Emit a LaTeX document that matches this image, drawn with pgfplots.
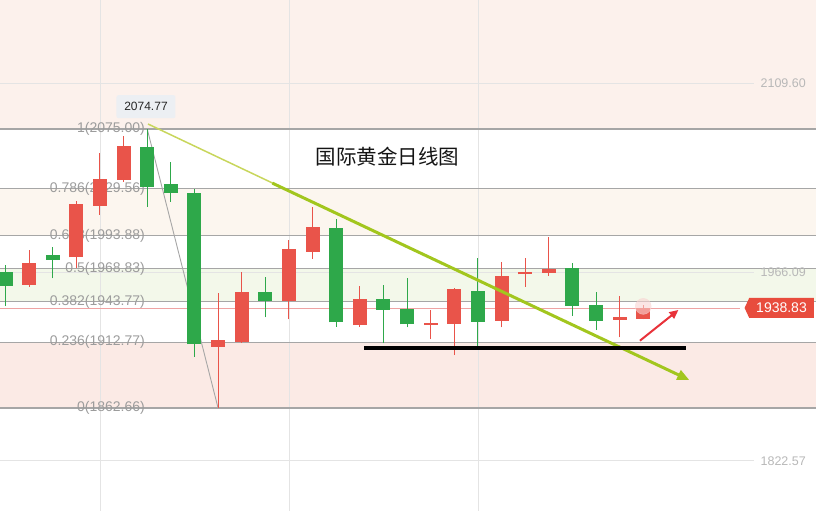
\documentclass[border=0pt]{standalone}
\usepackage{pgfplots}
\pgfplotsset{compat=1.18}
\usepackage{pgfplotstable}
\usepackage{fontspec}
\setmainfont{Liberation Sans}
\newfontfamily\cjk{Noto Sans CJK SC}
\usetikzlibrary{arrows.meta,shapes.symbols}

\definecolor{upred}{HTML}{E9544A}
\definecolor{dngreen}{HTML}{2EA84A}
\definecolor{bgtop}{HTML}{FCF1EC}
\definecolor{bgcream}{HTML}{FCF6EF}
\definecolor{bggreen}{HTML}{F3F8EA}
\definecolor{bgpink}{HTML}{FBEAE5}
\definecolor{fibline}{HTML}{A6A6A6}
\definecolor{fibtext}{HTML}{9C9C9C}
\definecolor{gridc}{HTML}{E4E4E4}
\definecolor{axtext}{HTML}{B8B8B8}
\definecolor{tagred}{HTML}{E84C3D}
\definecolor{trendthin}{HTML}{C8D65C}
\definecolor{trendgreen}{HTML}{A2C61E}
\definecolor{arrowred}{HTML}{E8323A}
\definecolor{pricel}{HTML}{EFA3A3}
\definecolor{hilab}{HTML}{ECEFF3}
\definecolor{glow}{HTML}{F9D4D2}

% rising candles (red): index, open, high, low, close
\pgfplotstableread{
i o h l c
1 1956.5 1982.9 1955.0 1972.8
3 1977.4 2020.2 1969.0 2017.9
4 2016.6 2056.5 2009.6 2036.7
5 2036.2 2069.7 2034.7 2062.1
9 1909.3 1950.0 1862.66 1914.4
10 1913.1 1966.4 1912.5 1951.2
12 1944.1 1990.5 1930.2 1983.7
13 1981.6 2015.9 1976.1 2000.2
15 1925.8 1955.5 1924.6 1945.6
18 1925.7 1937.3 1915.0 1927.1
19 1926.8 1953.7 1903.0 1953.2
21 1929.1 1974.0 1924.1 1963.1
22 1964.4 1976.6 1955.0 1965.9
23 1965.6 1993.0 1963.4 1968.5
26 1929.9 1947.9 1916.5 1931.7
27 1930.6 1941.1 1930.1 1938.83
}\upcandles

% falling candles (green): index, open, high, low, close
\pgfplotstableread{
i o h l c
0 1965.9 1971.5 1940.3 1955.3
2 1979.1 1985.4 1961.4 1975.5
6 2061.1 2074.77 2015.9 2031.1
7 2033.1 2050.1 2019.7 2026.1
8 2026.1 2029.3 1901.7 1911.2
11 1951.2 1962.6 1931.7 1944.3
14 1999.4 2006.3 1924.6 1927.9
16 1945.4 1956.3 1911.9 1937.3
17 1937.8 1961.4 1924.1 1926.4
20 1951.7 1976.6 1909.3 1928.4
24 1969.0 1973.3 1932.9 1940.3
25 1941.1 1951.2 1922.0 1929.1
}\dncandles

\begin{document}
\begin{tikzpicture}
\begin{axis}[
  width=816pt, height=511pt, scale only axis,
  xmin=-0.2329, xmax=34.314, ymin=1784.29, ymax=2173.18,
  hide axis, clip=true,
]
% background bands
\addplot[fill=bgtop, draw=none, forget plot] coordinates {(-1,2075) (35,2075) (35,2200) (-1,2200) (-1,2075)};
\addplot[fill=bgcream, draw=none, forget plot] coordinates {(-1,1993.88) (35,1993.88) (35,2029.56) (-1,2029.56) (-1,1993.88)};
\addplot[fill=bggreen, draw=none, forget plot] coordinates {(-1,1943.77) (35,1943.77) (35,1968.83) (-1,1968.83) (-1,1943.77)};
\addplot[fill=bgpink, draw=none, forget plot] coordinates {(-1,1862.66) (35,1862.66) (35,1912.77) (-1,1912.77) (-1,1862.66)};

% vertical grid lines
\pgfplotsinvokeforeach{4,12,20}{
  \addplot[gridc, line width=0.8pt, forget plot] coordinates {(#1,1780) (#1,2180)};
}
% price axis grid lines
\pgfplotsinvokeforeach{2109.60,1966.09,1822.57}{
  \addplot[gridc, line width=0.8pt, forget plot] coordinates {(-1,#1) (31.69,#1)};
}
% current price line
\addplot[pricel, line width=0.8pt, forget plot] coordinates {(-1,1938.83) (31.1,1938.83)};

% Fibonacci levels
\pgfplotsinvokeforeach{2075,2029.56,1993.88,1968.83,1943.77,1912.77,1862.66}{
  \addplot[fibline, line width=1.1pt, forget plot] coordinates {(-1,#1) (35,#1)};
}
\begin{scope}[every node/.style={anchor=east, text=fibtext, inner sep=0pt, font=\fontsize{14}{16}\selectfont}]
\node at (axis cs:5.906,2075) {1(2075.00)};
\node at (axis cs:5.906,2029.56) {0.786(2029.56)};
\node at (axis cs:5.906,1993.88) {0.618(1993.88)};
\node at (axis cs:5.906,1968.83) {0.5(1968.83)};
\node at (axis cs:5.906,1943.77) {0.382(1943.77)};
\node at (axis cs:5.906,1912.77) {0.236(1912.77)};
\node at (axis cs:5.906,1862.66) {0(1862.66)};
\end{scope}

% right price labels
\begin{scope}[every node/.style={anchor=east, text=axtext, inner sep=0pt, font=\fontsize{12.5}{14}\selectfont}]
\node at (axis cs:33.89,2109.60) {2109.60};
\node at (axis cs:33.89,1966.09) {1966.09};
\node at (axis cs:33.89,1822.57) {1822.57};
\end{scope}

% Fibonacci diagonal
\addplot[fibline, line width=0.9pt, forget plot] coordinates {(6,2075) (9,1862.66)};

% soft glow behind the last candle
\addplot[forget plot, only marks, mark=*, mark size=8pt, mark options={draw=glow, fill=glow, opacity=0.6}] coordinates {(27,1940)};

% wicks
\addplot[draw=none, mark=none, forget plot, error bars/.cd, y dir=plus, y explicit, error mark=none,
  error bar style={draw=upred, line width=1pt, solid}]
  table[x=i, y=l, y error plus expr=\thisrow{h}-\thisrow{l}] {\upcandles};
\addplot[draw=none, mark=none, forget plot, error bars/.cd, y dir=plus, y explicit, error mark=none,
  error bar style={draw=dngreen, line width=1pt, solid}]
  table[x=i, y=l, y error plus expr=\thisrow{h}-\thisrow{l}] {\dncandles};
% bodies
\addplot[draw=none, mark=none, forget plot, error bars/.cd, y dir=plus, y explicit, error mark=none,
  error bar style={draw=upred, line width=14pt, solid}]
  table[x=i, y=o, y error plus expr=\thisrow{c}-\thisrow{o}] {\upcandles};
\addplot[draw=none, mark=none, forget plot, error bars/.cd, y dir=plus, y explicit, error mark=none,
  error bar style={draw=dngreen, line width=14pt, solid}]
  table[x=i, y=c, y error plus expr=\thisrow{o}-\thisrow{c}] {\dncandles};

% trend line
\addplot[trendthin, line width=1.5pt, forget plot] coordinates {(6.033,2078.8) (11.5,2032.2)};
\addplot[trendgreen, line width=3pt, forget plot, -{Triangle[length=12pt,width=10pt]}] coordinates {(11.3,2033.8) (28.95,1884)};

% support line
\addplot[black, line width=4pt, forget plot] coordinates {(15.18,1908.7) (28.81,1908.7)};

% red arrow
\addplot[arrowred, line width=2pt, forget plot, -{Triangle[length=9pt,width=8pt]}] coordinates {(26.86,1913.9) (28.49,1937.3)};

% high label
\node[fill=hilab, rounded corners=2pt, text=black!85, minimum width=59pt, minimum height=23pt, inner sep=0pt,
  font=\fontsize{12}{14}\selectfont] at (axis cs:5.948,2092.0) {2074.77};

% current price tag
\node[signal, signal to=west, signal pointer angle=130, fill=tagred, text=white, anchor=east,
  inner xsep=7pt, inner ysep=5pt, font=\fontsize{14}{16}\selectfont] at (axis cs:34.23,1938.83) {1938.83};

% title
\node[text=black!92, inner sep=0pt, font=\cjk\fontsize{20.5}{24}\selectfont] at (axis cs:16.17,2053.9) {国际黄金日线图};
\end{axis}
\pgfresetboundingbox
\path[use as bounding box] (0,0) rectangle (816pt,511pt);
\end{tikzpicture}
\end{document}
